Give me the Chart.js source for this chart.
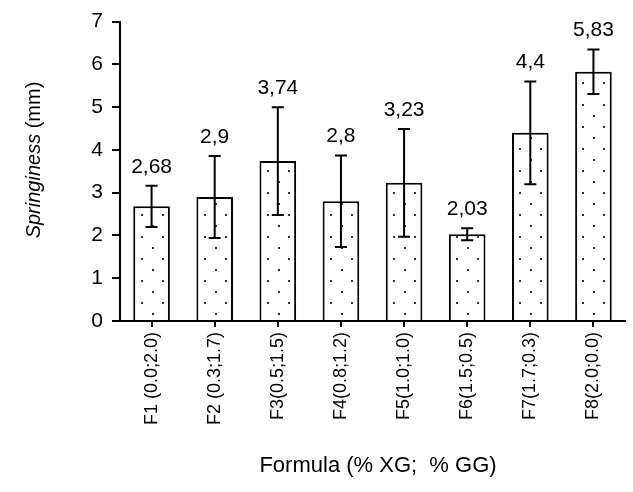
<!DOCTYPE html>
<html>
<head>
<meta charset="utf-8">
<script src="https://cdn.jsdelivr.net/npm/chart.js@4.4.1/dist/chart.umd.min.js"></script>
<style>
  body { margin: 0; background: #fff; }
  #wrap { width: 633px; height: 492px; }
</style>
</head>
<body>
<div id="wrap"><canvas id="chart" width="633" height="492"></canvas></div>
<script>
// data
const formulas = ["F1 (0.0;2.0)", "F2 (0.3;1.7)", "F3(0.5;1.5)", "F4(0.8;1.2)",
                  "F5(1.0;1.0)", "F6(1.5;0.5)", "F7(1.7;0.3)", "F8(2.0;0.0)"];
const springiness = [2.68, 2.9, 3.74, 2.8, 3.23, 2.03, 4.4, 5.83];
const stdDev = [0.48, 0.96, 1.26, 1.07, 1.26, 0.14, 1.2, 0.52];
const yTicks = [0, 1, 2, 3, 4, 5, 6, 7];

const FONT = "Liberation Sans, Arial, sans-serif";

// dotted fill like the original
function dotPattern() {
  const c = document.createElement("canvas");
  c.width = 21;
  c.height = 22;
  const g = c.getContext("2d");
  g.fillStyle = "#fff";
  g.fillRect(0, 0, 21, 22);
  g.fillStyle = "#333";
  g.fillRect(5, 5, 2, 2);
  g.fillRect(15, 16, 2, 2);
  return document.getElementById("chart").getContext("2d").createPattern(c, "repeat");
}

// error bars + value labels
const errorBars = {
  id: "errorBars",
  afterDatasetsDraw(chart) {
    const ctx = chart.ctx;
    const x = chart.scales.x;
    const y = chart.scales.y;
    ctx.save();
    ctx.strokeStyle = "#000";
    ctx.lineWidth = 2;
    ctx.fillStyle = "#000";
    ctx.font = "21px " + FONT;
    ctx.textAlign = "center";
    ctx.textBaseline = "alphabetic";
    springiness.forEach((v, i) => {
      const cx = x.getPixelForValue(i);
      const top = y.getPixelForValue(v + stdDev[i]);
      const bot = y.getPixelForValue(v - stdDev[i]);
      ctx.beginPath();
      ctx.moveTo(cx, top); ctx.lineTo(cx, bot);
      ctx.moveTo(cx - 6, top); ctx.lineTo(cx + 6, top);
      ctx.moveTo(cx - 6, bot); ctx.lineTo(cx + 6, bot);
      ctx.stroke();
      ctx.fillText(String(v).replace(".", ","), cx, top - 13);
    });
    ctx.restore();
  }
};

// axis titles (y title has an italic word)
const axisTitles = {
  id: "axisTitles",
  afterDraw(chart) {
    const ctx = chart.ctx;
    ctx.save();
    ctx.fillStyle = "#000";
    ctx.textBaseline = "middle";

    ctx.font = "22px " + FONT;
    ctx.textAlign = "center";
    ctx.fillText("Formula (% XG;  % GG)", 378, 466);

    ctx.translate(34, 160);
    ctx.rotate(-Math.PI / 2);
    const part1 = "Springiness";
    const part2 = " (mm)";
    ctx.font = "italic 20px " + FONT;
    const w1 = ctx.measureText(part1).width;
    ctx.font = "20px " + FONT;
    const w2 = ctx.measureText(part2).width;
    const sx = -(w1 + w2) / 2;
    ctx.textAlign = "left";
    ctx.font = "italic 20px " + FONT;
    ctx.fillText(part1, sx, 0);
    ctx.font = "20px " + FONT;
    ctx.fillText(part2, sx + w1, 0);
    ctx.restore();
  }
};

new Chart(document.getElementById("chart"), {
  type: "bar",
  data: {
    labels: formulas,
    datasets: [{
      data: springiness,
      backgroundColor: dotPattern(),
      borderColor: "#000",
      borderWidth: 2,
      borderSkipped: "start",
      barPercentage: 0.58,
      categoryPercentage: 1.0
    }]
  },
  options: {
    responsive: false,
    animation: false,
    events: [],
    layout: { padding: { top: 21, right: 8, left: 0, bottom: 0 } },
    plugins: {
      legend: { display: false },
      tooltip: { enabled: false }
    },
    scales: {
      x: {
        offset: true,
        grid: { display: true, drawOnChartArea: false, drawTicks: true, tickLength: 6, offset: false, color: "#000", lineWidth: 2 },
        border: { display: true, color: "#000", width: 2 },
        ticks: {
          color: "#000",
          font: { family: FONT, size: 18 },
          minRotation: 90,
          maxRotation: 90,
          autoSkip: false,
          padding: 5
        },
        afterFit(scale) { scale.height = 171; }
      },
      y: {
        min: 0,
        max: 7,
        afterBuildTicks(scale) { scale.ticks = yTicks.map(v => ({ value: v })); },
        grid: { display: true, drawOnChartArea: false, drawTicks: true, tickLength: 8, color: "#000", lineWidth: 2 },
        border: { display: true, color: "#000", width: 2 },
        ticks: {
          color: "#000",
          font: { family: FONT, size: 21 },
          padding: 9
        },
        afterFit(scale) { scale.width = 120; }
      }
    }
  },
  plugins: [errorBars, axisTitles]
});
</script>
</body>
</html>
